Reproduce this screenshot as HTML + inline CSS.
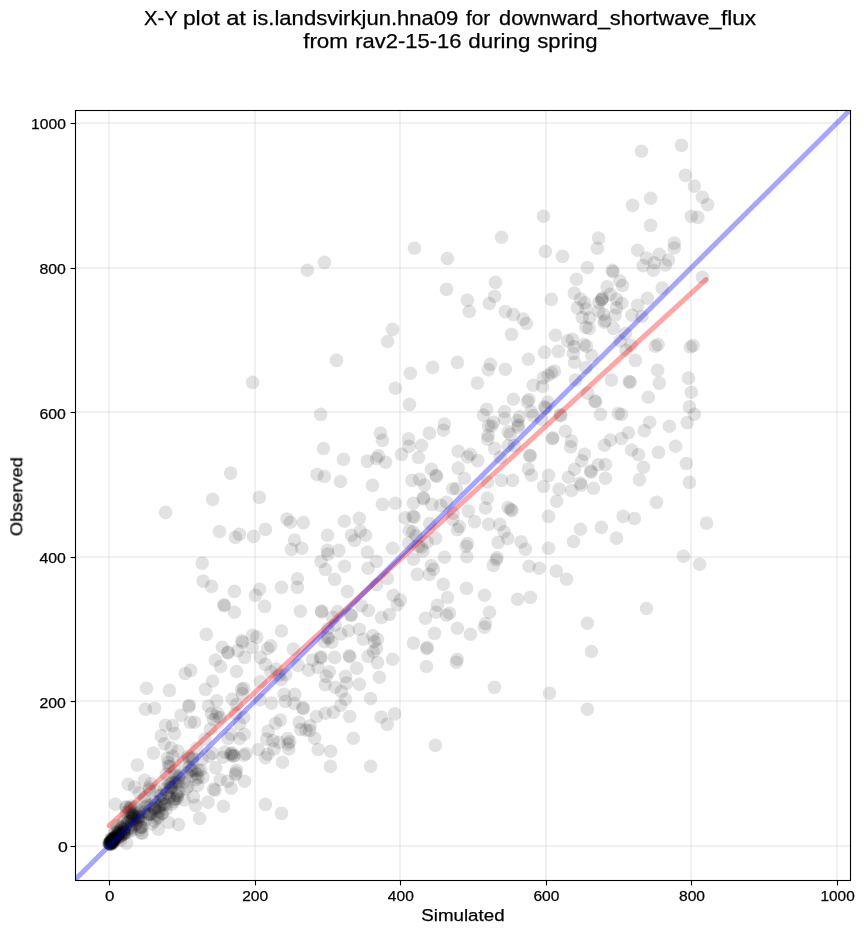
<!DOCTYPE html>
<html><head><meta charset="utf-8"><title>X-Y plot</title>
<style>
html,body{margin:0;padding:0;background:#fff;}
svg{display:block;}
text{font-family:"Liberation Sans",sans-serif;fill:#000;stroke:#000;stroke-width:0.25px;}
</style></head><body>
<svg width="864" height="934" viewBox="0 0 864 934">
<rect width="864" height="934" fill="#fff"/>
<defs><clipPath id="ax"><rect x="75.5" y="110.5" width="775.0" height="770.0"/></clipPath></defs>
<g stroke="#b0b0b0" stroke-opacity="0.18" stroke-width="2"><line x1="109.00" y1="110.50" x2="109.00" y2="880.50"/><line x1="255.00" y1="110.50" x2="255.00" y2="880.50"/><line x1="400.00" y1="110.50" x2="400.00" y2="880.50"/><line x1="546.00" y1="110.50" x2="546.00" y2="880.50"/><line x1="691.00" y1="110.50" x2="691.00" y2="880.50"/><line x1="837.00" y1="110.50" x2="837.00" y2="880.50"/><line x1="75.50" y1="846.00" x2="850.50" y2="846.00"/><line x1="75.50" y1="701.00" x2="850.50" y2="701.00"/><line x1="75.50" y1="557.00" x2="850.50" y2="557.00"/><line x1="75.50" y1="412.00" x2="850.50" y2="412.00"/><line x1="75.50" y1="268.00" x2="850.50" y2="268.00"/><line x1="75.50" y1="123.00" x2="850.50" y2="123.00"/></g>
<g clip-path="url(#ax)">
<g fill="#000" fill-opacity="0.115"><circle cx="501.5" cy="237.2" r="6.8"/><circle cx="543.5" cy="216.3" r="6.8"/><circle cx="598.5" cy="238.1" r="6.8"/><circle cx="641.5" cy="151.3" r="6.8"/><circle cx="681.5" cy="145.4" r="6.8"/><circle cx="685.4" cy="175.4" r="6.8"/><circle cx="694.4" cy="186.1" r="6.8"/><circle cx="702.4" cy="197.2" r="6.8"/><circle cx="707.6" cy="204.6" r="6.8"/><circle cx="691.3" cy="216.3" r="6.8"/><circle cx="697.8" cy="217.4" r="6.8"/><circle cx="650.6" cy="198.3" r="6.8"/><circle cx="632.6" cy="205.4" r="6.8"/><circle cx="650.6" cy="225.4" r="6.8"/><circle cx="674.3" cy="243.1" r="6.8"/><circle cx="324.4" cy="262.4" r="6.8"/><circle cx="307.4" cy="270.2" r="6.8"/><circle cx="336.5" cy="360.4" r="6.8"/><circle cx="252.6" cy="382.4" r="6.8"/><circle cx="414.4" cy="248.3" r="6.8"/><circle cx="447.4" cy="258.5" r="6.8"/><circle cx="446.5" cy="289.4" r="6.8"/><circle cx="467.4" cy="300.2" r="6.8"/><circle cx="489.3" cy="303.5" r="6.8"/><circle cx="469.3" cy="311.5" r="6.8"/><circle cx="392.6" cy="329.4" r="6.8"/><circle cx="387.6" cy="341.5" r="6.8"/><circle cx="457.4" cy="362.4" r="6.8"/><circle cx="432.6" cy="367.4" r="6.8"/><circle cx="410.4" cy="373.3" r="6.8"/><circle cx="488.3" cy="369.6" r="6.8"/><circle cx="477.4" cy="383.1" r="6.8"/><circle cx="597.3" cy="248.3" r="6.8"/><circle cx="562.5" cy="256.4" r="6.8"/><circle cx="587.5" cy="267.5" r="6.8"/><circle cx="612.3" cy="270.4" r="6.8"/><circle cx="613.1" cy="271.7" r="6.8"/><circle cx="576.4" cy="279.3" r="6.8"/><circle cx="619.8" cy="281.0" r="6.8"/><circle cx="622.5" cy="285.5" r="6.8"/><circle cx="607.1" cy="286.9" r="6.8"/><circle cx="574.3" cy="293.1" r="6.8"/><circle cx="610.2" cy="294.4" r="6.8"/><circle cx="580.5" cy="299.1" r="6.8"/><circle cx="602.4" cy="298.0" r="6.8"/><circle cx="601.9" cy="299.8" r="6.8"/><circle cx="584.7" cy="302.7" r="6.8"/><circle cx="616.5" cy="299.1" r="6.8"/><circle cx="621.7" cy="303.2" r="6.8"/><circle cx="598.8" cy="302.7" r="6.8"/><circle cx="577.4" cy="307.9" r="6.8"/><circle cx="586.2" cy="309.0" r="6.8"/><circle cx="616.5" cy="307.9" r="6.8"/><circle cx="598.8" cy="311.0" r="6.8"/><circle cx="603.4" cy="314.2" r="6.8"/><circle cx="545.4" cy="251.5" r="6.8"/><circle cx="495.4" cy="282.4" r="6.8"/><circle cx="494.6" cy="296.2" r="6.8"/><circle cx="551.4" cy="299.4" r="6.8"/><circle cx="505.3" cy="311.6" r="6.8"/><circle cx="513.3" cy="314.4" r="6.8"/><circle cx="523.2" cy="319.1" r="6.8"/><circle cx="526.4" cy="323.5" r="6.8"/><circle cx="511.5" cy="334.4" r="6.8"/><circle cx="555.5" cy="335.2" r="6.8"/><circle cx="544.6" cy="352.4" r="6.8"/><circle cx="558.3" cy="351.4" r="6.8"/><circle cx="528.4" cy="359.2" r="6.8"/><circle cx="490.4" cy="364.4" r="6.8"/><circle cx="505.3" cy="369.3" r="6.8"/><circle cx="554.5" cy="371.1" r="6.8"/><circle cx="551.4" cy="372.7" r="6.8"/><circle cx="548.2" cy="375.3" r="6.8"/><circle cx="543.3" cy="377.9" r="6.8"/><circle cx="582.3" cy="317.5" r="6.8"/><circle cx="589.6" cy="318.0" r="6.8"/><circle cx="605.2" cy="320.6" r="6.8"/><circle cx="604.2" cy="322.2" r="6.8"/><circle cx="615.1" cy="315.2" r="6.8"/><circle cx="585.9" cy="327.4" r="6.8"/><circle cx="589.1" cy="328.4" r="6.8"/><circle cx="613.5" cy="328.4" r="6.8"/><circle cx="625.5" cy="333.6" r="6.8"/><circle cx="567.7" cy="340.9" r="6.8"/><circle cx="572.4" cy="339.4" r="6.8"/><circle cx="574.0" cy="346.7" r="6.8"/><circle cx="583.9" cy="344.6" r="6.8"/><circle cx="586.5" cy="346.1" r="6.8"/><circle cx="620.3" cy="340.9" r="6.8"/><circle cx="626.0" cy="350.3" r="6.8"/><circle cx="573.4" cy="353.4" r="6.8"/><circle cx="591.7" cy="355.5" r="6.8"/><circle cx="574.5" cy="362.3" r="6.8"/><circle cx="585.9" cy="367.5" r="6.8"/><circle cx="611.5" cy="380.0" r="6.8"/><circle cx="575.5" cy="380.0" r="6.8"/><circle cx="629.2" cy="381.6" r="6.8"/><circle cx="674.3" cy="248.0" r="6.8"/><circle cx="637.6" cy="250.2" r="6.8"/><circle cx="646.5" cy="258.1" r="6.8"/><circle cx="659.3" cy="254.4" r="6.8"/><circle cx="668.5" cy="260.0" r="6.8"/><circle cx="665.4" cy="265.0" r="6.8"/><circle cx="643.1" cy="265.6" r="6.8"/><circle cx="654.3" cy="262.8" r="6.8"/><circle cx="653.3" cy="270.2" r="6.8"/><circle cx="702.4" cy="277.2" r="6.8"/><circle cx="662.2" cy="288.1" r="6.8"/><circle cx="647.4" cy="298.3" r="6.8"/><circle cx="637.6" cy="305.4" r="6.8"/><circle cx="632.0" cy="315.2" r="6.8"/><circle cx="641.9" cy="316.5" r="6.8"/><circle cx="631.1" cy="345.2" r="6.8"/><circle cx="655.2" cy="346.1" r="6.8"/><circle cx="658.0" cy="344.6" r="6.8"/><circle cx="690.4" cy="347.0" r="6.8"/><circle cx="693.1" cy="345.6" r="6.8"/><circle cx="635.4" cy="360.4" r="6.8"/><circle cx="657.6" cy="370.2" r="6.8"/><circle cx="688.5" cy="378.1" r="6.8"/><circle cx="659.3" cy="383.1" r="6.8"/><circle cx="630.2" cy="382.2" r="6.8"/><circle cx="165.6" cy="512.4" r="6.8"/><circle cx="320.6" cy="414.4" r="6.8"/><circle cx="323.5" cy="448.5" r="6.8"/><circle cx="343.5" cy="459.4" r="6.8"/><circle cx="230.6" cy="473.1" r="6.8"/><circle cx="317.0" cy="474.4" r="6.8"/><circle cx="324.4" cy="476.5" r="6.8"/><circle cx="340.4" cy="481.5" r="6.8"/><circle cx="212.6" cy="499.4" r="6.8"/><circle cx="259.3" cy="497.4" r="6.8"/><circle cx="287.0" cy="519.1" r="6.8"/><circle cx="290.4" cy="522.2" r="6.8"/><circle cx="303.3" cy="522.6" r="6.8"/><circle cx="344.4" cy="521.3" r="6.8"/><circle cx="395.4" cy="388.3" r="6.8"/><circle cx="409.5" cy="404.4" r="6.8"/><circle cx="380.4" cy="433.1" r="6.8"/><circle cx="382.4" cy="440.4" r="6.8"/><circle cx="408.5" cy="438.9" r="6.8"/><circle cx="408.8" cy="446.4" r="6.8"/><circle cx="401.5" cy="454.4" r="6.8"/><circle cx="486.6" cy="409.2" r="6.8"/><circle cx="483.4" cy="415.1" r="6.8"/><circle cx="488.6" cy="426.0" r="6.8"/><circle cx="488.1" cy="435.4" r="6.8"/><circle cx="487.6" cy="439.1" r="6.8"/><circle cx="444.4" cy="424.0" r="6.8"/><circle cx="443.5" cy="430.2" r="6.8"/><circle cx="429.4" cy="433.1" r="6.8"/><circle cx="421.5" cy="445.3" r="6.8"/><circle cx="458.2" cy="451.2" r="6.8"/><circle cx="470.4" cy="454.2" r="6.8"/><circle cx="367.3" cy="461.1" r="6.8"/><circle cx="378.5" cy="455.9" r="6.8"/><circle cx="376.5" cy="458.5" r="6.8"/><circle cx="385.6" cy="462.2" r="6.8"/><circle cx="418.6" cy="457.5" r="6.8"/><circle cx="372.5" cy="485.4" r="6.8"/><circle cx="412.1" cy="480.4" r="6.8"/><circle cx="419.7" cy="479.4" r="6.8"/><circle cx="382.4" cy="504.4" r="6.8"/><circle cx="395.4" cy="503.3" r="6.8"/><circle cx="413.4" cy="503.3" r="6.8"/><circle cx="405.1" cy="517.9" r="6.8"/><circle cx="412.9" cy="516.4" r="6.8"/><circle cx="414.2" cy="517.1" r="6.8"/><circle cx="359.3" cy="518.4" r="6.8"/><circle cx="467.8" cy="457.0" r="6.8"/><circle cx="477.7" cy="460.6" r="6.8"/><circle cx="458.2" cy="468.1" r="6.8"/><circle cx="431.4" cy="469.2" r="6.8"/><circle cx="436.0" cy="475.2" r="6.8"/><circle cx="436.6" cy="476.5" r="6.8"/><circle cx="464.4" cy="478.3" r="6.8"/><circle cx="424.6" cy="485.1" r="6.8"/><circle cx="452.7" cy="488.8" r="6.8"/><circle cx="456.4" cy="488.8" r="6.8"/><circle cx="487.6" cy="482.0" r="6.8"/><circle cx="423.3" cy="497.6" r="6.8"/><circle cx="423.5" cy="498.9" r="6.8"/><circle cx="487.3" cy="498.1" r="6.8"/><circle cx="431.9" cy="504.4" r="6.8"/><circle cx="440.7" cy="505.4" r="6.8"/><circle cx="446.5" cy="502.3" r="6.8"/><circle cx="485.5" cy="508.0" r="6.8"/><circle cx="468.3" cy="511.1" r="6.8"/><circle cx="453.2" cy="513.2" r="6.8"/><circle cx="474.6" cy="521.6" r="6.8"/><circle cx="429.8" cy="523.6" r="6.8"/><circle cx="452.7" cy="519.5" r="6.8"/><circle cx="488.6" cy="524.2" r="6.8"/><circle cx="533.3" cy="385.2" r="6.8"/><circle cx="542.5" cy="386.5" r="6.8"/><circle cx="513.3" cy="399.3" r="6.8"/><circle cx="529.0" cy="399.5" r="6.8"/><circle cx="527.4" cy="401.6" r="6.8"/><circle cx="547.7" cy="402.1" r="6.8"/><circle cx="544.6" cy="406.8" r="6.8"/><circle cx="545.6" cy="408.1" r="6.8"/><circle cx="504.5" cy="411.5" r="6.8"/><circle cx="504.5" cy="418.8" r="6.8"/><circle cx="531.0" cy="411.5" r="6.8"/><circle cx="519.6" cy="416.7" r="6.8"/><circle cx="533.1" cy="415.6" r="6.8"/><circle cx="493.5" cy="422.4" r="6.8"/><circle cx="491.5" cy="426.0" r="6.8"/><circle cx="517.5" cy="420.8" r="6.8"/><circle cx="518.5" cy="425.0" r="6.8"/><circle cx="518.0" cy="427.1" r="6.8"/><circle cx="508.1" cy="431.8" r="6.8"/><circle cx="510.2" cy="434.4" r="6.8"/><circle cx="541.5" cy="419.3" r="6.8"/><circle cx="552.9" cy="437.8" r="6.8"/><circle cx="552.4" cy="438.8" r="6.8"/><circle cx="494.6" cy="448.4" r="6.8"/><circle cx="508.1" cy="445.8" r="6.8"/><circle cx="514.4" cy="445.8" r="6.8"/><circle cx="587.7" cy="393.2" r="6.8"/><circle cx="594.8" cy="401.0" r="6.8"/><circle cx="595.8" cy="401.8" r="6.8"/><circle cx="560.2" cy="414.9" r="6.8"/><circle cx="560.8" cy="415.6" r="6.8"/><circle cx="600.5" cy="414.4" r="6.8"/><circle cx="618.2" cy="413.5" r="6.8"/><circle cx="621.4" cy="414.4" r="6.8"/><circle cx="565.4" cy="431.2" r="6.8"/><circle cx="571.4" cy="441.1" r="6.8"/><circle cx="570.6" cy="446.9" r="6.8"/><circle cx="610.4" cy="440.1" r="6.8"/><circle cx="604.4" cy="445.3" r="6.8"/><circle cx="621.4" cy="438.5" r="6.8"/><circle cx="628.3" cy="432.8" r="6.8"/><circle cx="584.4" cy="454.2" r="6.8"/><circle cx="500.3" cy="457.5" r="6.8"/><circle cx="529.8" cy="455.2" r="6.8"/><circle cx="530.2" cy="456.0" r="6.8"/><circle cx="528.4" cy="469.0" r="6.8"/><circle cx="531.4" cy="475.2" r="6.8"/><circle cx="548.5" cy="475.4" r="6.8"/><circle cx="501.4" cy="480.4" r="6.8"/><circle cx="512.5" cy="480.4" r="6.8"/><circle cx="543.5" cy="486.5" r="6.8"/><circle cx="559.2" cy="489.3" r="6.8"/><circle cx="556.6" cy="501.2" r="6.8"/><circle cx="508.1" cy="507.5" r="6.8"/><circle cx="510.7" cy="509.4" r="6.8"/><circle cx="512.1" cy="510.6" r="6.8"/><circle cx="548.5" cy="516.4" r="6.8"/><circle cx="499.8" cy="524.4" r="6.8"/><circle cx="581.6" cy="460.8" r="6.8"/><circle cx="598.1" cy="464.8" r="6.8"/><circle cx="605.5" cy="464.5" r="6.8"/><circle cx="574.5" cy="469.2" r="6.8"/><circle cx="590.6" cy="471.0" r="6.8"/><circle cx="591.1" cy="472.3" r="6.8"/><circle cx="568.5" cy="477.3" r="6.8"/><circle cx="605.4" cy="478.3" r="6.8"/><circle cx="580.2" cy="483.0" r="6.8"/><circle cx="581.2" cy="485.1" r="6.8"/><circle cx="571.6" cy="490.5" r="6.8"/><circle cx="593.5" cy="488.2" r="6.8"/><circle cx="623.2" cy="516.4" r="6.8"/><circle cx="691.3" cy="392.2" r="6.8"/><circle cx="648.3" cy="397.2" r="6.8"/><circle cx="689.4" cy="406.9" r="6.8"/><circle cx="694.4" cy="414.3" r="6.8"/><circle cx="687.2" cy="422.6" r="6.8"/><circle cx="649.6" cy="422.2" r="6.8"/><circle cx="644.4" cy="430.6" r="6.8"/><circle cx="669.4" cy="426.3" r="6.8"/><circle cx="631.5" cy="450.0" r="6.8"/><circle cx="638.5" cy="454.6" r="6.8"/><circle cx="658.5" cy="452.4" r="6.8"/><circle cx="675.6" cy="446.3" r="6.8"/><circle cx="686.3" cy="463.5" r="6.8"/><circle cx="643.5" cy="467.2" r="6.8"/><circle cx="639.4" cy="479.6" r="6.8"/><circle cx="689.4" cy="482.4" r="6.8"/><circle cx="656.5" cy="502.4" r="6.8"/><circle cx="634.4" cy="518.5" r="6.8"/><circle cx="706.5" cy="523.1" r="6.8"/><circle cx="202.2" cy="563.1" r="6.8"/><circle cx="203.1" cy="581.1" r="6.8"/><circle cx="206.3" cy="634.4" r="6.8"/><circle cx="219.5" cy="531.5" r="6.8"/><circle cx="239.4" cy="534.3" r="6.8"/><circle cx="235.4" cy="537.4" r="6.8"/><circle cx="253.6" cy="536.4" r="6.8"/><circle cx="265.4" cy="529.4" r="6.8"/><circle cx="211.5" cy="586.4" r="6.8"/><circle cx="234.4" cy="591.4" r="6.8"/><circle cx="259.6" cy="589.2" r="6.8"/><circle cx="294.5" cy="540.0" r="6.8"/><circle cx="291.4" cy="549.4" r="6.8"/><circle cx="301.8" cy="548.3" r="6.8"/><circle cx="327.5" cy="535.3" r="6.8"/><circle cx="327.3" cy="550.4" r="6.8"/><circle cx="327.8" cy="554.1" r="6.8"/><circle cx="338.8" cy="550.4" r="6.8"/><circle cx="321.0" cy="561.4" r="6.8"/><circle cx="325.4" cy="569.5" r="6.8"/><circle cx="344.5" cy="566.2" r="6.8"/><circle cx="334.6" cy="579.4" r="6.8"/><circle cx="297.4" cy="578.8" r="6.8"/><circle cx="297.4" cy="587.4" r="6.8"/><circle cx="281.5" cy="587.4" r="6.8"/><circle cx="347.4" cy="591.6" r="6.8"/><circle cx="255.4" cy="595.4" r="6.8"/><circle cx="224.0" cy="604.8" r="6.8"/><circle cx="224.3" cy="605.7" r="6.8"/><circle cx="234.4" cy="612.3" r="6.8"/><circle cx="264.6" cy="606.4" r="6.8"/><circle cx="252.6" cy="635.2" r="6.8"/><circle cx="256.8" cy="637.1" r="6.8"/><circle cx="241.7" cy="640.7" r="6.8"/><circle cx="242.7" cy="642.3" r="6.8"/><circle cx="222.4" cy="647.2" r="6.8"/><circle cx="227.6" cy="652.2" r="6.8"/><circle cx="228.2" cy="652.9" r="6.8"/><circle cx="238.0" cy="650.6" r="6.8"/><circle cx="252.1" cy="647.5" r="6.8"/><circle cx="267.7" cy="648.5" r="6.8"/><circle cx="270.8" cy="645.9" r="6.8"/><circle cx="244.6" cy="657.4" r="6.8"/><circle cx="260.4" cy="657.4" r="6.8"/><circle cx="215.4" cy="660.0" r="6.8"/><circle cx="265.3" cy="664.4" r="6.8"/><circle cx="300.4" cy="611.2" r="6.8"/><circle cx="321.4" cy="611.0" r="6.8"/><circle cx="321.8" cy="612.0" r="6.8"/><circle cx="337.7" cy="611.6" r="6.8"/><circle cx="332.5" cy="617.3" r="6.8"/><circle cx="281.5" cy="631.0" r="6.8"/><circle cx="335.1" cy="625.1" r="6.8"/><circle cx="327.8" cy="628.8" r="6.8"/><circle cx="348.6" cy="630.8" r="6.8"/><circle cx="340.8" cy="634.0" r="6.8"/><circle cx="327.8" cy="637.1" r="6.8"/><circle cx="328.4" cy="638.2" r="6.8"/><circle cx="324.2" cy="641.8" r="6.8"/><circle cx="331.7" cy="642.3" r="6.8"/><circle cx="293.4" cy="649.1" r="6.8"/><circle cx="321.0" cy="656.9" r="6.8"/><circle cx="320.5" cy="658.0" r="6.8"/><circle cx="312.7" cy="660.0" r="6.8"/><circle cx="334.6" cy="657.4" r="6.8"/><circle cx="349.2" cy="655.8" r="6.8"/><circle cx="349.8" cy="656.8" r="6.8"/><circle cx="360.3" cy="531.1" r="6.8"/><circle cx="351.5" cy="535.3" r="6.8"/><circle cx="365.5" cy="535.3" r="6.8"/><circle cx="354.6" cy="540.5" r="6.8"/><circle cx="409.3" cy="530.6" r="6.8"/><circle cx="412.9" cy="531.7" r="6.8"/><circle cx="416.0" cy="535.8" r="6.8"/><circle cx="408.8" cy="543.1" r="6.8"/><circle cx="392.6" cy="548.3" r="6.8"/><circle cx="367.4" cy="552.3" r="6.8"/><circle cx="376.5" cy="561.4" r="6.8"/><circle cx="368.1" cy="568.3" r="6.8"/><circle cx="413.4" cy="559.3" r="6.8"/><circle cx="417.3" cy="574.4" r="6.8"/><circle cx="387.4" cy="578.5" r="6.8"/><circle cx="376.5" cy="584.8" r="6.8"/><circle cx="418.6" cy="546.2" r="6.8"/><circle cx="459.5" cy="526.5" r="6.8"/><circle cx="457.4" cy="529.6" r="6.8"/><circle cx="435.5" cy="538.4" r="6.8"/><circle cx="427.2" cy="542.1" r="6.8"/><circle cx="421.5" cy="547.3" r="6.8"/><circle cx="423.0" cy="550.9" r="6.8"/><circle cx="467.5" cy="543.6" r="6.8"/><circle cx="466.2" cy="546.2" r="6.8"/><circle cx="466.8" cy="556.7" r="6.8"/><circle cx="444.4" cy="557.2" r="6.8"/><circle cx="431.4" cy="565.5" r="6.8"/><circle cx="433.4" cy="569.2" r="6.8"/><circle cx="429.3" cy="574.4" r="6.8"/><circle cx="443.3" cy="584.3" r="6.8"/><circle cx="466.5" cy="588.4" r="6.8"/><circle cx="393.3" cy="595.2" r="6.8"/><circle cx="400.4" cy="600.1" r="6.8"/><circle cx="397.3" cy="604.8" r="6.8"/><circle cx="361.4" cy="605.8" r="6.8"/><circle cx="368.3" cy="610.5" r="6.8"/><circle cx="350.9" cy="614.7" r="6.8"/><circle cx="351.2" cy="615.5" r="6.8"/><circle cx="381.5" cy="617.5" r="6.8"/><circle cx="389.5" cy="614.5" r="6.8"/><circle cx="359.3" cy="629.3" r="6.8"/><circle cx="372.8" cy="635.5" r="6.8"/><circle cx="363.4" cy="639.2" r="6.8"/><circle cx="377.5" cy="639.2" r="6.8"/><circle cx="374.4" cy="641.8" r="6.8"/><circle cx="376.5" cy="648.5" r="6.8"/><circle cx="373.3" cy="651.7" r="6.8"/><circle cx="368.1" cy="656.4" r="6.8"/><circle cx="377.5" cy="662.6" r="6.8"/><circle cx="392.6" cy="659.2" r="6.8"/><circle cx="413.4" cy="643.1" r="6.8"/><circle cx="484.5" cy="595.2" r="6.8"/><circle cx="447.5" cy="597.5" r="6.8"/><circle cx="437.4" cy="605.3" r="6.8"/><circle cx="436.0" cy="612.3" r="6.8"/><circle cx="449.4" cy="613.3" r="6.8"/><circle cx="446.5" cy="615.2" r="6.8"/><circle cx="425.4" cy="618.3" r="6.8"/><circle cx="489.5" cy="612.3" r="6.8"/><circle cx="485.5" cy="623.5" r="6.8"/><circle cx="484.5" cy="627.2" r="6.8"/><circle cx="457.4" cy="628.2" r="6.8"/><circle cx="470.4" cy="634.2" r="6.8"/><circle cx="434.5" cy="633.4" r="6.8"/><circle cx="427.2" cy="647.3" r="6.8"/><circle cx="426.7" cy="648.8" r="6.8"/><circle cx="457.2" cy="659.2" r="6.8"/><circle cx="456.4" cy="662.3" r="6.8"/><circle cx="504.1" cy="531.7" r="6.8"/><circle cx="507.8" cy="538.5" r="6.8"/><circle cx="498.1" cy="542.4" r="6.8"/><circle cx="521.1" cy="541.9" r="6.8"/><circle cx="525.4" cy="549.3" r="6.8"/><circle cx="548.5" cy="548.3" r="6.8"/><circle cx="573.5" cy="541.5" r="6.8"/><circle cx="580.4" cy="529.3" r="6.8"/><circle cx="601.3" cy="527.4" r="6.8"/><circle cx="616.5" cy="538.1" r="6.8"/><circle cx="497.0" cy="557.6" r="6.8"/><circle cx="496.3" cy="559.8" r="6.8"/><circle cx="493.3" cy="565.4" r="6.8"/><circle cx="529.1" cy="566.3" r="6.8"/><circle cx="539.3" cy="568.3" r="6.8"/><circle cx="556.3" cy="571.1" r="6.8"/><circle cx="566.5" cy="579.3" r="6.8"/><circle cx="517.6" cy="599.3" r="6.8"/><circle cx="530.4" cy="597.4" r="6.8"/><circle cx="587.4" cy="623.3" r="6.8"/><circle cx="591.5" cy="651.5" r="6.8"/><circle cx="683.5" cy="556.3" r="6.8"/><circle cx="699.6" cy="564.3" r="6.8"/><circle cx="646.5" cy="608.5" r="6.8"/><circle cx="494.4" cy="687.4" r="6.8"/><circle cx="549.4" cy="693.3" r="6.8"/><circle cx="587.4" cy="709.3" r="6.8"/><circle cx="426.5" cy="666.5" r="6.8"/><circle cx="356.7" cy="668.3" r="6.8"/><circle cx="379.4" cy="677.2" r="6.8"/><circle cx="359.4" cy="684.3" r="6.8"/><circle cx="370.6" cy="698.5" r="6.8"/><circle cx="381.1" cy="717.0" r="6.8"/><circle cx="394.6" cy="713.9" r="6.8"/><circle cx="387.2" cy="724.4" r="6.8"/><circle cx="353.3" cy="738.3" r="6.8"/><circle cx="435.4" cy="745.4" r="6.8"/><circle cx="370.6" cy="766.3" r="6.8"/><circle cx="298.1" cy="665.4" r="6.8"/><circle cx="308.5" cy="670.1" r="6.8"/><circle cx="317.9" cy="667.5" r="6.8"/><circle cx="329.4" cy="671.7" r="6.8"/><circle cx="326.2" cy="676.4" r="6.8"/><circle cx="285.6" cy="674.8" r="6.8"/><circle cx="280.9" cy="679.5" r="6.8"/><circle cx="345.5" cy="676.4" r="6.8"/><circle cx="346.6" cy="683.1" r="6.8"/><circle cx="325.2" cy="684.7" r="6.8"/><circle cx="335.1" cy="687.3" r="6.8"/><circle cx="341.4" cy="691.5" r="6.8"/><circle cx="345.5" cy="699.3" r="6.8"/><circle cx="340.6" cy="705.5" r="6.8"/><circle cx="284.1" cy="694.4" r="6.8"/><circle cx="294.8" cy="694.4" r="6.8"/><circle cx="285.4" cy="701.4" r="6.8"/><circle cx="294.2" cy="703.4" r="6.8"/><circle cx="302.8" cy="707.6" r="6.8"/><circle cx="303.4" cy="708.8" r="6.8"/><circle cx="316.4" cy="716.5" r="6.8"/><circle cx="325.2" cy="713.3" r="6.8"/><circle cx="333.5" cy="712.3" r="6.8"/><circle cx="349.7" cy="716.5" r="6.8"/><circle cx="280.4" cy="720.1" r="6.8"/><circle cx="299.2" cy="722.2" r="6.8"/><circle cx="300.7" cy="729.5" r="6.8"/><circle cx="305.9" cy="730.0" r="6.8"/><circle cx="310.1" cy="725.8" r="6.8"/><circle cx="309.6" cy="730.5" r="6.8"/><circle cx="220.5" cy="666.5" r="6.8"/><circle cx="236.5" cy="671.5" r="6.8"/><circle cx="212.5" cy="681.0" r="6.8"/><circle cx="270.8" cy="671.7" r="6.8"/><circle cx="276.0" cy="669.1" r="6.8"/><circle cx="279.2" cy="675.3" r="6.8"/><circle cx="260.4" cy="681.6" r="6.8"/><circle cx="241.7" cy="689.4" r="6.8"/><circle cx="243.8" cy="688.3" r="6.8"/><circle cx="242.2" cy="693.5" r="6.8"/><circle cx="232.3" cy="699.3" r="6.8"/><circle cx="216.7" cy="700.8" r="6.8"/><circle cx="236.5" cy="704.5" r="6.8"/><circle cx="259.9" cy="699.8" r="6.8"/><circle cx="271.4" cy="703.1" r="6.8"/><circle cx="217.7" cy="713.3" r="6.8"/><circle cx="216.1" cy="716.5" r="6.8"/><circle cx="219.8" cy="717.5" r="6.8"/><circle cx="211.5" cy="713.3" r="6.8"/><circle cx="213.5" cy="719.6" r="6.8"/><circle cx="235.4" cy="713.3" r="6.8"/><circle cx="243.8" cy="717.5" r="6.8"/><circle cx="239.6" cy="723.8" r="6.8"/><circle cx="275.5" cy="723.2" r="6.8"/><circle cx="210.4" cy="729.0" r="6.8"/><circle cx="268.2" cy="731.0" r="6.8"/><circle cx="231.2" cy="734.2" r="6.8"/><circle cx="244.3" cy="734.2" r="6.8"/><circle cx="239.6" cy="738.5" r="6.8"/><circle cx="228.1" cy="738.5" r="6.8"/><circle cx="266.7" cy="739.1" r="6.8"/><circle cx="272.9" cy="740.6" r="6.8"/><circle cx="279.2" cy="742.2" r="6.8"/><circle cx="258.3" cy="749.5" r="6.8"/><circle cx="274.0" cy="749.0" r="6.8"/><circle cx="267.7" cy="754.2" r="6.8"/><circle cx="232.3" cy="753.1" r="6.8"/><circle cx="231.2" cy="755.2" r="6.8"/><circle cx="233.5" cy="756.2" r="6.8"/><circle cx="230.7" cy="753.6" r="6.8"/><circle cx="225.0" cy="752.1" r="6.8"/><circle cx="245.8" cy="753.6" r="6.8"/><circle cx="243.8" cy="755.2" r="6.8"/><circle cx="212.5" cy="753.1" r="6.8"/><circle cx="222.9" cy="757.3" r="6.8"/><circle cx="265.4" cy="757.8" r="6.8"/><circle cx="215.6" cy="767.7" r="6.8"/><circle cx="236.5" cy="770.3" r="6.8"/><circle cx="235.9" cy="772.9" r="6.8"/><circle cx="235.4" cy="774.8" r="6.8"/><circle cx="220.3" cy="779.7" r="6.8"/><circle cx="227.6" cy="781.2" r="6.8"/><circle cx="244.6" cy="781.2" r="6.8"/><circle cx="231.2" cy="788.3" r="6.8"/><circle cx="213.5" cy="789.1" r="6.8"/><circle cx="215.1" cy="790.1" r="6.8"/><circle cx="265.4" cy="804.4" r="6.8"/><circle cx="314.6" cy="738.3" r="6.8"/><circle cx="287.7" cy="738.5" r="6.8"/><circle cx="289.8" cy="741.7" r="6.8"/><circle cx="288.2" cy="744.0" r="6.8"/><circle cx="288.8" cy="749.0" r="6.8"/><circle cx="282.5" cy="762.3" r="6.8"/><circle cx="318.2" cy="749.5" r="6.8"/><circle cx="330.6" cy="751.2" r="6.8"/><circle cx="330.4" cy="766.4" r="6.8"/><circle cx="190.6" cy="670.4" r="6.8"/><circle cx="185.2" cy="673.5" r="6.8"/><circle cx="146.5" cy="688.3" r="6.8"/><circle cx="169.4" cy="690.4" r="6.8"/><circle cx="205.5" cy="689.4" r="6.8"/><circle cx="189.2" cy="705.2" r="6.8"/><circle cx="188.9" cy="706.7" r="6.8"/><circle cx="145.4" cy="709.2" r="6.8"/><circle cx="154.5" cy="708.3" r="6.8"/><circle cx="208.3" cy="706.0" r="6.8"/><circle cx="181.0" cy="715.2" r="6.8"/><circle cx="190.4" cy="722.2" r="6.8"/><circle cx="194.6" cy="722.2" r="6.8"/><circle cx="165.4" cy="725.3" r="6.8"/><circle cx="172.5" cy="725.6" r="6.8"/><circle cx="174.6" cy="733.6" r="6.8"/><circle cx="161.2" cy="735.9" r="6.8"/><circle cx="164.4" cy="743.8" r="6.8"/><circle cx="171.1" cy="747.9" r="6.8"/><circle cx="177.9" cy="751.0" r="6.8"/><circle cx="153.4" cy="753.1" r="6.8"/><circle cx="167.5" cy="758.3" r="6.8"/><circle cx="172.7" cy="756.2" r="6.8"/><circle cx="168.5" cy="762.5" r="6.8"/><circle cx="196.7" cy="748.4" r="6.8"/><circle cx="205.0" cy="739.1" r="6.8"/><circle cx="209.2" cy="756.2" r="6.8"/><circle cx="144.6" cy="780.2" r="6.8"/><circle cx="189.4" cy="766.7" r="6.8"/><circle cx="194.6" cy="770.8" r="6.8"/><circle cx="196.7" cy="774.0" r="6.8"/><circle cx="180.0" cy="775.0" r="6.8"/><circle cx="184.2" cy="782.3" r="6.8"/><circle cx="187.8" cy="786.5" r="6.8"/><circle cx="186.2" cy="788.8" r="6.8"/><circle cx="197.7" cy="785.4" r="6.8"/><circle cx="208.1" cy="802.1" r="6.8"/><circle cx="193.5" cy="796.9" r="6.8"/><circle cx="184.2" cy="800.0" r="6.8"/><circle cx="175.8" cy="783.3" r="6.8"/><circle cx="171.7" cy="787.5" r="6.8"/><circle cx="166.5" cy="792.7" r="6.8"/><circle cx="169.6" cy="797.9" r="6.8"/><circle cx="161.2" cy="800.0" r="6.8"/><circle cx="164.4" cy="804.2" r="6.8"/><circle cx="171.7" cy="804.2" r="6.8"/><circle cx="157.1" cy="802.1" r="6.8"/><circle cx="176.9" cy="795.8" r="6.8"/><circle cx="179.0" cy="791.7" r="6.8"/><circle cx="202.9" cy="777.1" r="6.8"/><circle cx="201.9" cy="759.4" r="6.8"/><circle cx="192.5" cy="759.4" r="6.8"/><circle cx="188.3" cy="756.2" r="6.8"/><circle cx="137.3" cy="765.1" r="6.8"/><circle cx="128.2" cy="784.2" r="6.8"/><circle cx="134.5" cy="787.0" r="6.8"/><circle cx="139.2" cy="792.7" r="6.8"/><circle cx="115.4" cy="804.2" r="6.8"/><circle cx="223.4" cy="806.2" r="6.8"/><circle cx="281.5" cy="813.4" r="6.8"/><circle cx="126.0" cy="806.9" r="6.8"/><circle cx="178.5" cy="824.6" r="6.8"/><circle cx="158.4" cy="829.3" r="6.8"/><circle cx="168.6" cy="822.5" r="6.8"/><circle cx="141.6" cy="833.0" r="6.8"/><circle cx="126.6" cy="843.3" r="6.8"/><circle cx="199.6" cy="818.4" r="6.8"/><circle cx="195.6" cy="805.4" r="6.8"/><circle cx="234.0" cy="755.5" r="6.8"/><circle cx="601.7" cy="299.3" r="6.8"/><circle cx="115.1" cy="839.8" r="6.8"/><circle cx="111.1" cy="843.8" r="6.8"/><circle cx="118.7" cy="833.7" r="6.8"/><circle cx="118.6" cy="835.2" r="6.8"/><circle cx="109.4" cy="843.1" r="6.8"/><circle cx="110.5" cy="842.7" r="6.8"/><circle cx="116.6" cy="837.1" r="6.8"/><circle cx="112.0" cy="840.2" r="6.8"/><circle cx="123.9" cy="833.4" r="6.8"/><circle cx="115.1" cy="836.9" r="6.8"/><circle cx="165.5" cy="804.9" r="6.8"/><circle cx="111.7" cy="842.3" r="6.8"/><circle cx="110.3" cy="841.7" r="6.8"/><circle cx="113.3" cy="842.9" r="6.8"/><circle cx="119.4" cy="831.8" r="6.8"/><circle cx="118.2" cy="832.6" r="6.8"/><circle cx="110.5" cy="843.5" r="6.8"/><circle cx="124.2" cy="829.8" r="6.8"/><circle cx="115.7" cy="836.1" r="6.8"/><circle cx="118.5" cy="837.8" r="6.8"/><circle cx="114.2" cy="839.8" r="6.8"/><circle cx="111.3" cy="838.8" r="6.8"/><circle cx="117.0" cy="829.8" r="6.8"/><circle cx="125.3" cy="826.6" r="6.8"/><circle cx="114.1" cy="840.0" r="6.8"/><circle cx="116.0" cy="836.9" r="6.8"/><circle cx="128.7" cy="827.3" r="6.8"/><circle cx="110.4" cy="844.0" r="6.8"/><circle cx="123.5" cy="830.0" r="6.8"/><circle cx="132.2" cy="813.7" r="6.8"/><circle cx="113.5" cy="838.5" r="6.8"/><circle cx="118.3" cy="830.8" r="6.8"/><circle cx="118.7" cy="837.8" r="6.8"/><circle cx="114.7" cy="832.9" r="6.8"/><circle cx="125.8" cy="832.6" r="6.8"/><circle cx="123.5" cy="831.6" r="6.8"/><circle cx="174.8" cy="782.8" r="6.8"/><circle cx="122.0" cy="828.4" r="6.8"/><circle cx="109.1" cy="843.1" r="6.8"/><circle cx="110.9" cy="842.4" r="6.8"/><circle cx="110.0" cy="843.1" r="6.8"/><circle cx="112.3" cy="839.7" r="6.8"/><circle cx="115.9" cy="837.9" r="6.8"/><circle cx="116.4" cy="835.9" r="6.8"/><circle cx="121.5" cy="835.8" r="6.8"/><circle cx="131.3" cy="815.1" r="6.8"/><circle cx="112.5" cy="838.8" r="6.8"/><circle cx="138.1" cy="817.9" r="6.8"/><circle cx="151.0" cy="805.1" r="6.8"/><circle cx="113.1" cy="841.0" r="6.8"/><circle cx="111.3" cy="839.1" r="6.8"/><circle cx="113.2" cy="840.1" r="6.8"/><circle cx="108.7" cy="843.2" r="6.8"/><circle cx="120.6" cy="833.9" r="6.8"/><circle cx="121.5" cy="827.4" r="6.8"/><circle cx="111.0" cy="844.2" r="6.8"/><circle cx="132.8" cy="814.6" r="6.8"/><circle cx="127.8" cy="821.7" r="6.8"/><circle cx="111.1" cy="842.9" r="6.8"/><circle cx="122.7" cy="831.7" r="6.8"/><circle cx="112.3" cy="841.0" r="6.8"/><circle cx="111.3" cy="841.4" r="6.8"/><circle cx="109.4" cy="844.0" r="6.8"/><circle cx="112.0" cy="842.4" r="6.8"/><circle cx="110.0" cy="843.9" r="6.8"/><circle cx="134.5" cy="816.3" r="6.8"/><circle cx="112.6" cy="839.8" r="6.8"/><circle cx="114.3" cy="838.0" r="6.8"/><circle cx="134.4" cy="820.9" r="6.8"/><circle cx="166.3" cy="774.2" r="6.8"/><circle cx="110.8" cy="842.6" r="6.8"/><circle cx="114.4" cy="838.3" r="6.8"/><circle cx="113.1" cy="843.2" r="6.8"/><circle cx="110.4" cy="844.4" r="6.8"/><circle cx="110.9" cy="841.5" r="6.8"/><circle cx="121.0" cy="835.7" r="6.8"/><circle cx="124.3" cy="828.6" r="6.8"/><circle cx="112.4" cy="842.3" r="6.8"/><circle cx="124.3" cy="821.3" r="6.8"/><circle cx="113.9" cy="838.3" r="6.8"/><circle cx="113.5" cy="841.7" r="6.8"/><circle cx="126.6" cy="812.4" r="6.8"/><circle cx="131.8" cy="824.6" r="6.8"/><circle cx="111.1" cy="839.1" r="6.8"/><circle cx="118.3" cy="834.3" r="6.8"/><circle cx="109.7" cy="843.6" r="6.8"/><circle cx="113.3" cy="839.6" r="6.8"/><circle cx="155.2" cy="810.0" r="6.8"/><circle cx="120.4" cy="839.9" r="6.8"/><circle cx="144.4" cy="800.0" r="6.8"/><circle cx="112.5" cy="840.7" r="6.8"/><circle cx="112.7" cy="841.5" r="6.8"/><circle cx="124.3" cy="834.1" r="6.8"/><circle cx="115.7" cy="832.1" r="6.8"/><circle cx="120.4" cy="835.1" r="6.8"/><circle cx="119.5" cy="832.6" r="6.8"/><circle cx="124.0" cy="833.7" r="6.8"/><circle cx="116.8" cy="825.6" r="6.8"/><circle cx="124.2" cy="832.8" r="6.8"/><circle cx="120.7" cy="827.4" r="6.8"/><circle cx="122.8" cy="825.5" r="6.8"/><circle cx="131.3" cy="831.2" r="6.8"/><circle cx="130.1" cy="828.8" r="6.8"/><circle cx="131.3" cy="829.8" r="6.8"/><circle cx="131.1" cy="827.6" r="6.8"/><circle cx="127.8" cy="822.9" r="6.8"/><circle cx="129.5" cy="821.4" r="6.8"/><circle cx="128.1" cy="819.5" r="6.8"/><circle cx="142.0" cy="833.3" r="6.8"/><circle cx="134.8" cy="825.3" r="6.8"/><circle cx="139.8" cy="829.7" r="6.8"/><circle cx="131.7" cy="820.1" r="6.8"/><circle cx="136.4" cy="823.5" r="6.8"/><circle cx="140.3" cy="827.1" r="6.8"/><circle cx="131.0" cy="817.6" r="6.8"/><circle cx="133.0" cy="819.2" r="6.8"/><circle cx="141.1" cy="827.2" r="6.8"/><circle cx="132.6" cy="818.2" r="6.8"/><circle cx="142.3" cy="827.3" r="6.8"/><circle cx="133.1" cy="816.2" r="6.8"/><circle cx="129.0" cy="811.5" r="6.8"/><circle cx="135.8" cy="818.4" r="6.8"/><circle cx="138.0" cy="820.2" r="6.8"/><circle cx="139.0" cy="820.0" r="6.8"/><circle cx="126.8" cy="807.6" r="6.8"/><circle cx="140.7" cy="821.0" r="6.8"/><circle cx="129.4" cy="809.3" r="6.8"/><circle cx="138.3" cy="817.1" r="6.8"/><circle cx="134.1" cy="812.8" r="6.8"/><circle cx="137.5" cy="815.9" r="6.8"/><circle cx="130.2" cy="807.5" r="6.8"/><circle cx="140.2" cy="816.5" r="6.8"/><circle cx="131.6" cy="806.1" r="6.8"/><circle cx="145.6" cy="819.6" r="6.8"/><circle cx="139.2" cy="812.6" r="6.8"/><circle cx="134.5" cy="807.3" r="6.8"/><circle cx="151.5" cy="823.9" r="6.8"/><circle cx="139.1" cy="810.0" r="6.8"/><circle cx="143.9" cy="812.6" r="6.8"/><circle cx="154.4" cy="821.1" r="6.8"/><circle cx="148.9" cy="814.1" r="6.8"/><circle cx="149.5" cy="814.3" r="6.8"/><circle cx="146.7" cy="811.4" r="6.8"/><circle cx="150.0" cy="813.9" r="6.8"/><circle cx="151.1" cy="813.9" r="6.8"/><circle cx="145.3" cy="807.1" r="6.8"/><circle cx="157.2" cy="818.3" r="6.8"/><circle cx="158.5" cy="817.0" r="6.8"/><circle cx="157.2" cy="815.6" r="6.8"/><circle cx="147.7" cy="805.5" r="6.8"/><circle cx="154.0" cy="808.4" r="6.8"/><circle cx="154.4" cy="808.0" r="6.8"/><circle cx="159.0" cy="811.7" r="6.8"/><circle cx="144.7" cy="797.3" r="6.8"/><circle cx="161.8" cy="813.7" r="6.8"/><circle cx="162.4" cy="813.1" r="6.8"/><circle cx="159.7" cy="807.8" r="6.8"/><circle cx="158.7" cy="806.7" r="6.8"/><circle cx="155.0" cy="801.8" r="6.8"/><circle cx="160.5" cy="805.5" r="6.8"/><circle cx="166.3" cy="809.3" r="6.8"/><circle cx="161.9" cy="804.4" r="6.8"/><circle cx="149.5" cy="789.8" r="6.8"/><circle cx="149.1" cy="787.8" r="6.8"/><circle cx="163.5" cy="798.5" r="6.8"/><circle cx="155.8" cy="790.7" r="6.8"/><circle cx="160.6" cy="795.4" r="6.8"/><circle cx="161.0" cy="795.2" r="6.8"/><circle cx="150.9" cy="783.7" r="6.8"/><circle cx="173.8" cy="801.8" r="6.8"/><circle cx="169.0" cy="796.6" r="6.8"/><circle cx="167.2" cy="793.5" r="6.8"/><circle cx="173.9" cy="799.1" r="6.8"/><circle cx="164.2" cy="789.1" r="6.8"/><circle cx="175.1" cy="799.5" r="6.8"/><circle cx="177.1" cy="798.5" r="6.8"/><circle cx="168.2" cy="786.4" r="6.8"/><circle cx="177.7" cy="795.5" r="6.8"/><circle cx="170.5" cy="787.6" r="6.8"/><circle cx="176.9" cy="793.3" r="6.8"/><circle cx="171.2" cy="787.1" r="6.8"/><circle cx="168.6" cy="782.6" r="6.8"/><circle cx="170.4" cy="783.9" r="6.8"/><circle cx="172.3" cy="782.8" r="6.8"/><circle cx="177.2" cy="781.3" r="6.8"/><circle cx="179.1" cy="782.8" r="6.8"/><circle cx="175.0" cy="775.2" r="6.8"/><circle cx="178.9" cy="778.1" r="6.8"/><circle cx="178.4" cy="776.9" r="6.8"/><circle cx="168.4" cy="766.3" r="6.8"/><circle cx="170.1" cy="766.5" r="6.8"/><circle cx="174.4" cy="770.4" r="6.8"/><circle cx="187.1" cy="772.8" r="6.8"/><circle cx="191.1" cy="776.3" r="6.8"/><circle cx="195.9" cy="779.8" r="6.8"/><circle cx="191.1" cy="770.8" r="6.8"/><circle cx="198.0" cy="777.7" r="6.8"/><circle cx="183.5" cy="762.0" r="6.8"/><circle cx="192.2" cy="769.9" r="6.8"/><circle cx="198.3" cy="770.3" r="6.8"/><circle cx="189.2" cy="758.4" r="6.8"/><circle cx="200.8" cy="770.0" r="6.8"/><circle cx="192.3" cy="757.7" r="6.8"/></g>
<line x1="109.10" y1="825.70" x2="706.00" y2="279.60" stroke="#f00" stroke-opacity="0.35" stroke-width="5.0" stroke-linecap="round"/>
<line x1="75.51" y1="879.26" x2="850.47" y2="109.62" stroke="#00f" stroke-opacity="0.35" stroke-width="5.0" stroke-linecap="square"/>
</g>
<rect x="75.5" y="110.5" width="775.0" height="770.0" fill="none" stroke="#000" stroke-width="1.1"/>
<g stroke="#000" stroke-width="1.1" ><line x1="109.50" y1="880.50" x2="109.50" y2="885.40"/><line x1="255.50" y1="880.50" x2="255.50" y2="885.40"/><line x1="400.50" y1="880.50" x2="400.50" y2="885.40"/><line x1="546.50" y1="880.50" x2="546.50" y2="885.40"/><line x1="691.50" y1="880.50" x2="691.50" y2="885.40"/><line x1="837.50" y1="880.50" x2="837.50" y2="885.40"/><line x1="70.60" y1="846.50" x2="75.50" y2="846.50"/><line x1="70.60" y1="701.50" x2="75.50" y2="701.50"/><line x1="70.60" y1="557.50" x2="75.50" y2="557.50"/><line x1="70.60" y1="412.50" x2="75.50" y2="412.50"/><line x1="70.60" y1="268.50" x2="75.50" y2="268.50"/><line x1="70.60" y1="123.50" x2="75.50" y2="123.50"/></g>
<g opacity="0.999">
<g font-size="14.4px"><text x="109.60" y="900.9" text-anchor="middle" textLength="9.4" lengthAdjust="spacingAndGlyphs">0</text><text x="255.20" y="900.9" text-anchor="middle" textLength="26.0" lengthAdjust="spacingAndGlyphs">200</text><text x="400.80" y="900.9" text-anchor="middle" textLength="26.0" lengthAdjust="spacingAndGlyphs">400</text><text x="546.40" y="900.9" text-anchor="middle" textLength="26.0" lengthAdjust="spacingAndGlyphs">600</text><text x="692.00" y="900.9" text-anchor="middle" textLength="26.0" lengthAdjust="spacingAndGlyphs">800</text><text x="837.60" y="900.9" text-anchor="middle" textLength="34.2" lengthAdjust="spacingAndGlyphs">1000</text><text x="67.70" y="852.30" text-anchor="end" textLength="9.8" lengthAdjust="spacingAndGlyphs">0</text><text x="65.90" y="707.70" text-anchor="end" textLength="26.4" lengthAdjust="spacingAndGlyphs">200</text><text x="65.90" y="563.10" text-anchor="end" textLength="26.4" lengthAdjust="spacingAndGlyphs">400</text><text x="65.90" y="418.50" text-anchor="end" textLength="26.4" lengthAdjust="spacingAndGlyphs">600</text><text x="65.90" y="273.90" text-anchor="end" textLength="26.4" lengthAdjust="spacingAndGlyphs">800</text><text x="65.90" y="129.30" text-anchor="end" textLength="34.8" lengthAdjust="spacingAndGlyphs">1000</text></g>
<text x="462.9" y="920.9" font-size="16.9px" text-anchor="middle" textLength="83.3" lengthAdjust="spacingAndGlyphs">Simulated</text>
<text transform="translate(22.3,496.6) rotate(-90)" font-size="16.9px" text-anchor="middle" textLength="79.0" lengthAdjust="spacingAndGlyphs">Observed</text>
<text x="144.0" y="24.8" font-size="19.8px" textLength="33.6" lengthAdjust="spacingAndGlyphs">X-Y</text>
<text x="182.9" y="24.8" font-size="19.8px" textLength="36.9" lengthAdjust="spacingAndGlyphs">plot</text>
<text x="226.2" y="24.8" font-size="19.8px" textLength="19.7" lengthAdjust="spacingAndGlyphs">at</text>
<text x="252.4" y="24.8" font-size="19.8px" textLength="206.0" lengthAdjust="spacingAndGlyphs">is.landsvirkjun.hna09</text>
<text x="466.0" y="24.8" font-size="19.8px" textLength="24.3" lengthAdjust="spacingAndGlyphs">for</text>
<text x="499.1" y="24.8" font-size="19.8px" textLength="99.1" lengthAdjust="spacingAndGlyphs">downward</text>
<text x="598.0" y="24.8" font-size="19.8px" textLength="12.2" lengthAdjust="spacingAndGlyphs">_</text>
<text x="609.8" y="24.8" font-size="19.8px" textLength="99.6" lengthAdjust="spacingAndGlyphs">shortwave</text>
<text x="709.3" y="24.8" font-size="19.8px" textLength="12.2" lengthAdjust="spacingAndGlyphs">_</text>
<text x="720.9" y="24.8" font-size="19.8px" textLength="35.3" lengthAdjust="spacingAndGlyphs">flux</text>
<text x="303.2" y="47.9" font-size="19.8px" textLength="44.8" lengthAdjust="spacingAndGlyphs">from</text>
<text x="355.3" y="47.9" font-size="19.8px" textLength="106.1" lengthAdjust="spacingAndGlyphs">rav2-15-16</text>
<text x="468.3" y="47.9" font-size="19.8px" textLength="62.1" lengthAdjust="spacingAndGlyphs">during</text>
<text x="537.3" y="47.9" font-size="19.8px" textLength="60.2" lengthAdjust="spacingAndGlyphs">spring</text>
</g>
</svg>
</body></html>
